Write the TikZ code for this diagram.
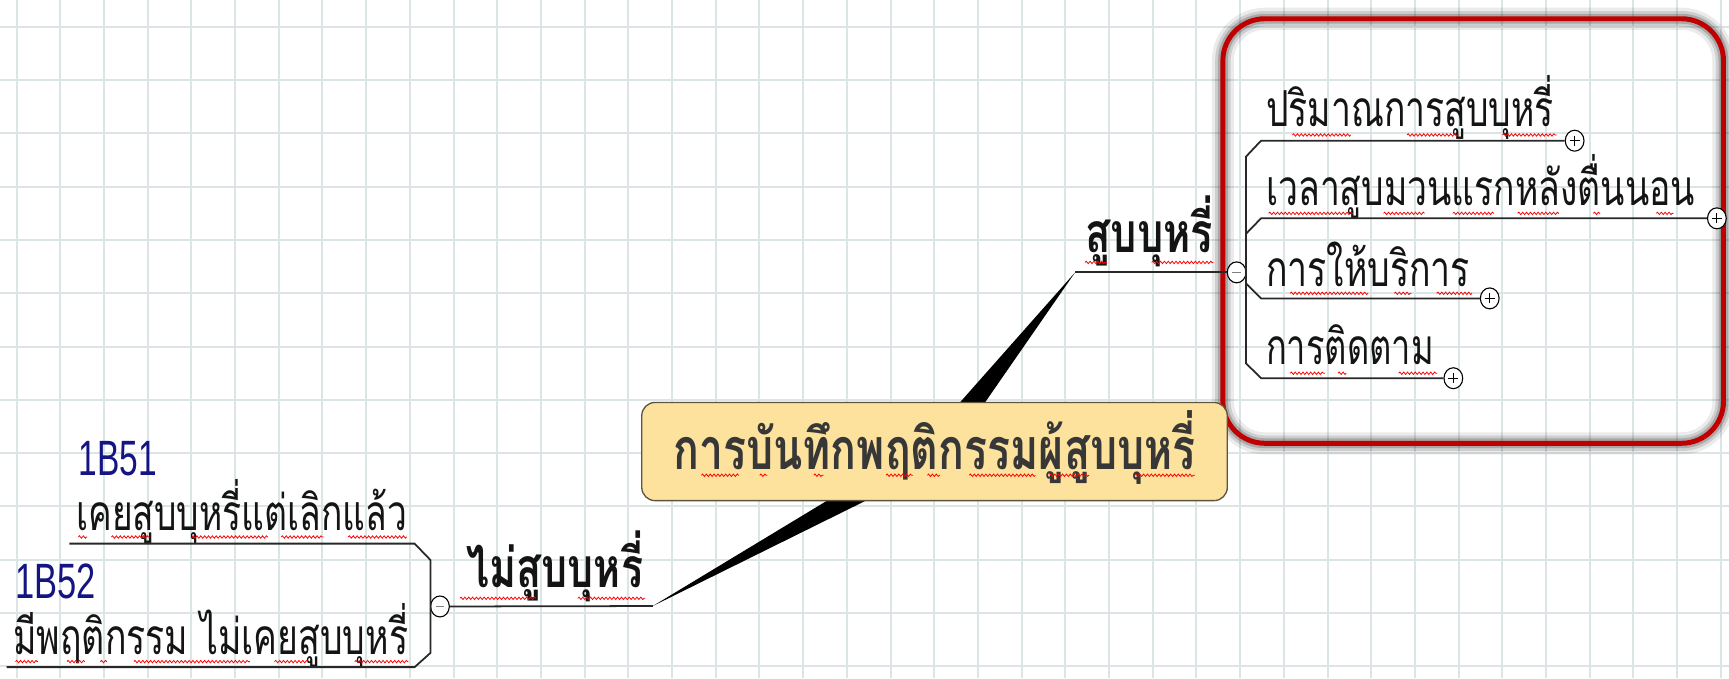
\documentclass[tikz,border=0pt]{standalone}
\usepackage{fontspec}
\usepackage{graphicx}
\setmainfont{Liberation Sans}
\newfontfamily\thai[Script=Thai]{Loma}
\usetikzlibrary{calc,shapes.geometric,decorations.pathmorphing}
\definecolor{gridc}{RGB}{220,229,229}
\definecolor{boxfill}{RGB}{253,226,158}
\definecolor{boxdraw}{RGB}{95,85,60}
\definecolor{redc}{RGB}{192,0,0}
\definecolor{navy}{RGB}{20,20,130}
\definecolor{ink}{RGB}{20,20,20}
\definecolor{linec}{RGB}{40,40,40}
\definecolor{roottext}{RGB}{55,55,55}
\newcommand{\fitw}[2]{\resizebox{#1pt}{\height}{#2}}
\tikzset{
  gridline/.style={gridc,line width=1.8},
  branch/.style={linec,line width=1.6},
  wedge/.style={fill=black},
  rootbox/.style={draw=boxdraw,fill=boxfill,line width=1.2,rounded corners=12,
     minimum width=531,minimum height=89,inner sep=0,text height=40,text depth=7,
     text=roottext,font=\thai\bfseries\fontsize{52}{52}\selectfont},
  mainlabel/.style={anchor=base west,inner sep=0,text=ink,font=\thai\bfseries\fontsize{50}{50}\selectfont},
  leaf/.style={anchor=base west,inner sep=0,text=ink,font=\thai\fontsize{45}{45}\selectfont},
  code/.style={anchor=base west,inner sep=0,text=navy,font=\fontsize{45}{45}\selectfont},
  toggle/.style={ellipse,draw=black,fill=white,line width=1,minimum width=17,minimum height=19,inner sep=0},
  plustoggle/.style={toggle,path picture={\draw[line width=1] (path picture bounding box.center) +(-4.5,0) -- +(4.5,0) (path picture bounding box.center) +(0,-4.5) -- +(0,4.5);}},
  minustoggle/.style={toggle,path picture={\draw[gray,line width=1.4] (path picture bounding box.center) +(-4,0) -- +(4,0);}},
  squig/.style={red,line width=0.7,decorate,decoration={snake,amplitude=1.1pt,segment length=3.5pt}}
}
\begin{document}
\begin{tikzpicture}[x=1pt,y=-1pt]
\useasboundingbox (0,0) rectangle (1568,615);
\fill[white] (0,0) rectangle (1568,615);
% grid
\foreach \i in {0,...,39} \draw[gridline] ({15+39.63*\i},0) -- ({15+39.63*\i},615);
\foreach \j in {0,...,12} \draw[gridline] (0,{24.2+48.34*\j}) -- (1568,{24.2+48.34*\j});
% highlighted frame with glow
\draw[black,opacity=0.08,line width=20,rounded corners=38] (1109,17) rectangle (1563,402);
\draw[black,opacity=0.12,line width=14,rounded corners=38] (1109,17) rectangle (1563,402);
\draw[black,opacity=0.18,line width=9,rounded corners=38] (1109,17) rectangle (1563,402);
\draw[redc,line width=4.5,rounded corners=38] (1109,17) rectangle (1563,402);
% wedges
\coordinate (ctr) at (847.5,409.5);
\coordinate (tipU) at (975,247);
\coordinate (tipL) at (592,549.6);
\fill[wedge] (tipU) -- ($(ctr)!12.3pt!90:(tipU)$) -- ($(ctr)!12.3pt!-90:(tipU)$) -- cycle;
\fill[wedge] (tipL) -- ($(ctr)!12.3pt!90:(tipL)$) -- ($(ctr)!12.3pt!-90:(tipL)$) -- cycle;
% root
\node[rootbox] (root) at (ctr) {\fitw{474}{การบันทึกพฤติกรรมผู้สูบบุหรี่}};
% upper branch
\node[mainlabel] (smoke) at (984,229) {\fitw{116}{สูบบุหรี่}};
\node[minustoggle] (mU) at (1121.5,247) {};
\draw[branch] (tipU) -- (mU.west);
% right leaves
\node[leaf] (r1) at (1148,115) {\fitw{261}{ปริมาณการสูบบุหรี่}};
\node[leaf] (r2) at (1148,186) {\fitw{389}{เวลาสูบมวนแรกหลังตื่นนอน}};
\node[leaf] (r3) at (1148,260) {\fitw{185}{การให้บริการ}};
\node[leaf] (r4) at (1148,331) {\fitw{152}{การติดตาม}};
\node[plustoggle] (p1) at (1428,127.6) {};
\node[plustoggle] (p2) at (1557,198) {};
\node[plustoggle] (p3) at (1351,270.6) {};
\node[plustoggle] (p4) at (1318,343) {};
\coordinate (rb1) at (1143.6,127.6);
\coordinate (rb2) at (1143.6,198);
\coordinate (rb3) at (1143.6,270.6);
\coordinate (rb4) at (1143.6,343);
\draw[branch] (p1.west) -- (rb1) -- (1130,142) -- (1130,329.5) -- (rb4) -- (p4.west);
\draw[branch] (p2.west) -- (rb2) -- (1130,212);
\draw[branch] (p3.west) -- (rb3) -- (1130,257);
% lower branch
\node[mainlabel] (nosmoke) at (423,533) {\fitw{160}{ไม่สูบบุหรี่}};
\node[minustoggle] (mL) at (399,550) {};
\draw[branch] (tipL) -- (mL.east);
\node[code] (c1) at (71,431) {\fitw{71}{1B51}};
\node[leaf] (l1) at (69,481) {\fitw{300}{เคยสูบบุหรี่แต่เลิกแล้ว}};
\node[code] (c2) at (14,543) {\fitw{73}{1B52}};
\node[leaf] (l2) at (12,594) {\fitw{358}{มีพฤติกรรม ไม่เคยสูบบุหรี่}};
\coordinate (lb1) at (376,493);
\coordinate (lb2) at (376,605);
\draw[branch] (63,493) -- (lb1) -- (390.5,508) -- (390.5,592) -- (lb2) -- (6,605);
% spelling marks
\foreach \a/\b in {636/670,689/696,738/747,803.5/828,841/852.5,879/939,952/988,1029/1083.5}
  \draw[squig] (\a,431) -- (\b,431);
\foreach \a/\b in {984/1003.6,1044.4/1100.3} \draw[squig] (\a,238) -- (\b,238);
\foreach \a/\b in {417/485.8,524/585} \draw[squig] (\a,542.6) -- (\b,542.6);
\foreach \a/\b in {71/79,101/135.6,174/243,255/293.5,315.8/369} \draw[squig] (\a,487) -- (\b,487);
\foreach \a/\b in {14/34.4,60.7/76.9,91/97,121.4/226.7,249/279.3,321.8/370.4} \draw[squig] (\a,600) -- (\b,600);
\foreach \a/\b in {1172/1225,1276/1323,1362.6/1411.6} \draw[squig] (\a,122.4) -- (\b,122.4);
\foreach \a/\b in {1150.5/1227,1254.6/1291.8,1317.4/1354.7,1376.3/1413.6,1445/1451,1502/1517.6} \draw[squig] (\a,193.5) -- (\b,193.5);
\foreach \a/\b in {1170/1240.8,1264.4/1280,1302.9/1335} \draw[squig] (\a,266) -- (\b,266);
\foreach \a/\b in {1170/1201.6,1213.4/1221,1268.4/1303.6} \draw[squig] (\a,338.5) -- (\b,338.5);
\end{tikzpicture}
\end{document}
